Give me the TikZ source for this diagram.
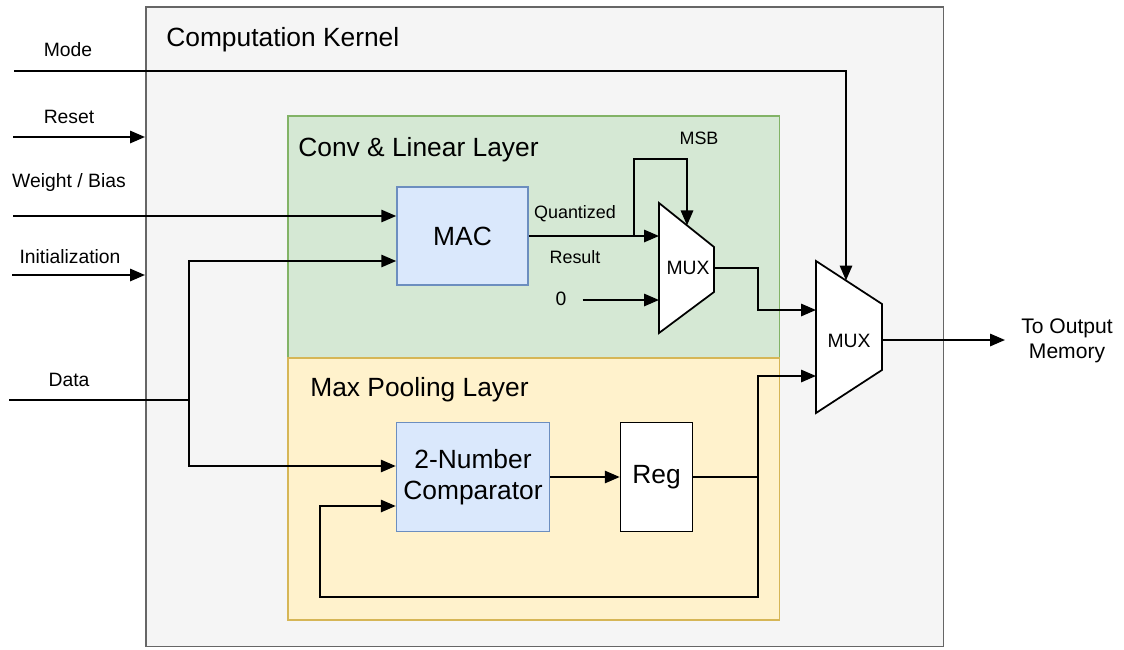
\documentclass[tikz,border=0pt]{standalone}
\usepackage{fontspec}
\setmainfont{Liberation Sans}
\usetikzlibrary{positioning,arrows.meta,calc}
\definecolor{kernelFill}{HTML}{F5F5F5}
\definecolor{kernelLine}{HTML}{666666}
\definecolor{convFill}{HTML}{D5E8D4}
\definecolor{convLine}{HTML}{82B366}
\definecolor{poolFill}{HTML}{FFF2CC}
\definecolor{poolLine}{HTML}{D6B656}
\definecolor{unitFill}{HTML}{DAE8FC}
\definecolor{unitLine}{HTML}{6C8EBF}
\tikzset{
    base/.style={font=\fontsize{11}{13}\selectfont, align=center, inner sep=0pt},
    heading/.style={base, anchor=west, font=\fontsize{15}{18}\selectfont},
    small/.style={base, font=\fontsize{10.2}{12}\selectfont},
    region/.style={rectangle, anchor=north west, inner sep=0pt, line width=0.9pt},
    unit/.style={base, rectangle, draw=unitLine, fill=unitFill, line width=0.9pt,
                 font=\fontsize{15}{18}\selectfont},
    reg/.style={unit, draw=black, fill=white},
    mux/.style={draw=black, fill=white, line width=1pt, line join=miter},
    net/.style={line width=1.15pt, black},
    wire/.style={net, -{Triangle[length=8.5pt,width=7pt]}}
}

\begin{document}
\begin{tikzpicture}[x=0.02cm, y=-0.02cm]
  \useasboundingbox (0,0) rectangle (1124,649);

  % Regions
  \node[region, draw=kernelLine, fill=kernelFill, minimum width=15.96cm, minimum height=12.8cm] (kernel) at (145,6) {};
  \node[region, draw=convLine, fill=convFill, minimum width=9.84cm, minimum height=4.84cm] (conv) at (287,115) {};
  \node[region, draw=poolLine, fill=poolFill, minimum width=9.84cm, minimum height=5.24cm] (pool) at (287,357) {};
  \node[heading] (kernelTitle) at (166,40) {Computation Kernel};
  \node[heading] (convTitle) at (298,150) {Conv \& Linear Layer};
  \node[heading] (poolTitle) at (310,390) {Max Pooling Layer};

  % Blocks
  \node[unit, minimum width=2.62cm, minimum height=1.96cm] (mac) at (462.5,236) {MAC};
  \node[unit, minimum width=3.06cm, minimum height=2.18cm] (comp) at (473,477) {2-Number\\Comparator};
  \node[reg, minimum width=1.44cm, minimum height=2.18cm] (reg) at (656.5,477) {Reg};

  % Multiplexers
  \draw[mux] (659,203) -- (714,247) -- (714,292) -- (659,333) -- cycle;
  \node[base] (muxa) at (688,268) {MUX};
  \coordinate (muxaIn1) at (659,236);
  \coordinate (muxaIn2) at (659,300);
  \coordinate (muxaSel) at (687,225.4);
  \coordinate (muxaOut) at (714,268);

  \draw[mux] (816,261) -- (882,304) -- (882,370) -- (816,413) -- cycle;
  \node[base] (muxb) at (849,341) {MUX};
  \coordinate (muxbIn1) at (816,310);
  \coordinate (muxbIn2) at (816,376);
  \coordinate (muxbSel) at (846,280.5);
  \coordinate (muxbOut) at (882,340);

  % Inputs
  \node[base] (modeLbl) at (68,50) {Mode};
  \node[base] (resetLbl) at (69,117) {Reset};
  \node[base] (weightLbl) at (69,183) {Weight / Bias};
  \node[base] (initLbl) at (70,257) {Initialization};
  \node[base] (dataLbl) at (69,380) {Data};
  \coordinate (modeIn) at (14,71);
  \coordinate (resetIn) at (13,137);
  \coordinate (weightIn) at (13,216);
  \coordinate (initIn) at (12,275);
  \coordinate (dataIn) at (9,400);
  \coordinate (split) at (189,400);

  \draw[wire] (modeIn) -| (muxbSel);
  \draw[wire] (resetIn) -- (resetIn -| kernel.west);
  \draw[wire] (weightIn) -- (weightIn -| mac.west);
  \draw[wire] (initIn) -- (initIn -| kernel.west);
  \draw[net] (dataIn) -- (split);
  \draw[wire] (split) |- (mac.west |- 0,261);
  \draw[wire] (split) |- (comp.west |- 0,466);

  % Conv path
  \coordinate (branch) at (634,236);
  \draw[wire] (mac.east) -- (muxaIn1);
  \draw[wire] (branch) |- ($(muxaSel)+(0,-66)$) -- (muxaSel);
  \node[small] (msbLbl) at (699,138) {MSB};
  \node[small] (quantLbl) at (575,214) {Quantized};
  \node[small] (resultLbl) at (575,257) {Result};
  \node[base] (zero) at (561,299) {0};
  \draw[wire] ([xshift=0.32cm]zero.east |- muxaIn2) -- (muxaIn2);
  \draw[wire] (muxaOut) -- ++(44,0) |- (muxbIn1);

  % Pooling path
  \coordinate (tap) at (758,477);
  \coordinate (loopCorner) at (320,597);
  \draw[wire] (comp.east) -- (reg.west);
  \draw[net] (reg.east) -- (tap);
  \draw[wire] (tap) |- (muxbIn2);
  \draw[wire] (tap) |- (loopCorner) |- (comp.west |- 0,506);

  % Output
  \node[base, font=\fontsize{12}{14}\selectfont] (outLbl) at (1067,341) {To Output\\Memory};
  \coordinate (outEnd) at (1005,340);
  \draw[wire] (muxbOut) -- (outEnd);
\end{tikzpicture}
\end{document}
